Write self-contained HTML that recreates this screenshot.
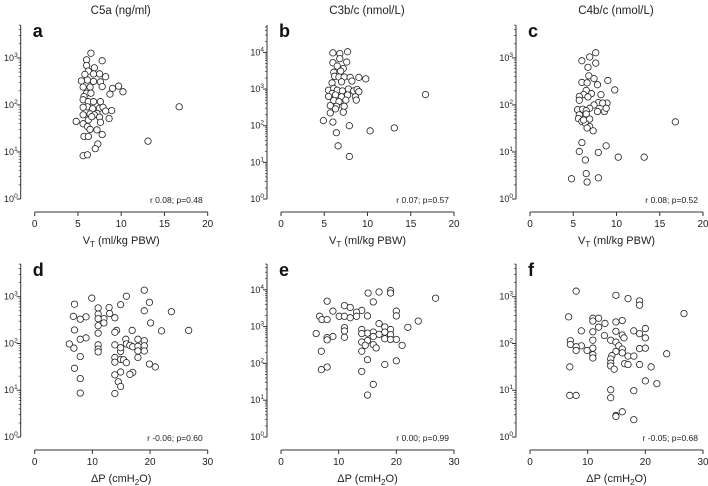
<!DOCTYPE html>
<html><head><meta charset="utf-8"><style>
body{margin:0;background:#fff}
svg{display:block;font-family:"Liberation Sans",Arial,sans-serif}
</style></head><body>
<svg id="chart" width="708" height="486" viewBox="0 0 708 486" xmlns="http://www.w3.org/2000/svg"></svg>
<script>
// Panel a: C5a vs VT (x, log10 y)
const aX=[6.5,6.0,7.8,6.0,6.9,6.2,5.8,6.8,7.5,8.2,7.6,6.8,6.1,5.4,6.4,5.6,6.0,6.5,5.7,9.7,9.0,10.2,8.7,5.6,6.2,6.8,7.6,6.1,5.6,6.7,7.5,7.9,8.9,7.2,5.6,6.4,6.9,8.2,6.2,7.5,8.6,4.8,5.6,6.1,7.6,6.4,7.2,5.7,6.2,7.8,7.3,7.0,13.1,16.7,5.6,6.1,7.8,6.6];
const aLogY=[3.10,2.96,2.94,2.84,2.79,2.72,2.65,2.66,2.66,2.60,2.49,2.50,2.53,2.51,2.38,2.38,2.25,2.25,2.18,2.40,2.35,2.28,2.23,2.11,2.07,2.07,2.07,1.96,1.95,1.92,1.93,1.95,1.88,1.82,1.79,1.81,1.79,1.87,1.68,1.74,1.71,1.65,1.60,1.54,1.63,1.48,1.47,1.33,1.33,1.37,1.17,1.07,1.23,1.96,0.92,0.94,2.39,1.75];
// Panel b: C3b/c vs VT
const bX=[6.0,6.8,7.7,6.8,6.0,7.6,6.5,7.2,6.1,6.9,6.2,6.7,7.3,8.0,9.0,9.8,8.2,5.9,7.0,5.5,6.1,6.5,7.1,7.8,8.4,8.8,9.0,5.9,6.3,7.0,7.7,8.6,8.7,6.1,6.7,7.5,5.7,6.4,7.3,5.7,6.3,7.2,16.7,4.9,6.0,7.9,10.3,13.1,6.4,6.6,7.9,5.5];
const bLogY=[3.99,3.97,4.02,3.83,3.72,3.74,3.63,3.56,3.46,3.49,3.35,3.33,3.33,3.32,3.32,3.28,3.22,3.17,3.20,2.97,3.02,2.97,2.95,3.00,2.95,2.99,2.93,2.88,2.84,2.79,2.84,2.79,2.70,2.69,2.66,2.70,2.55,2.53,2.53,2.35,2.46,2.37,2.85,2.14,2.10,2.00,1.86,1.94,1.81,1.45,1.16,2.80];
// Panel c: C4b/c vs VT
const cX=[7.6,6.9,6.0,7.6,6.7,6.8,7.4,9.0,6.0,6.6,7.8,9.8,6.5,7.1,8.2,6.2,5.7,6.7,5.7,7.9,8.9,8.4,7.4,6.9,5.5,6.1,6.5,7.8,8.6,8.8,5.7,6.5,5.6,6.0,6.9,6.4,6.9,7.3,6.6,6.2,16.8,6.0,8.8,5.7,7.9,10.2,13.2,6.4,4.8,6.5,6.6,7.9];
const cLogY=[3.11,3.02,2.94,2.89,2.80,2.62,2.56,2.52,2.48,2.47,2.43,2.32,2.31,2.24,2.22,2.22,2.18,2.17,2.10,2.05,2.04,2.04,2.00,1.93,1.90,1.91,1.88,1.86,1.86,1.93,1.79,1.81,1.71,1.65,1.70,1.61,1.54,1.45,1.51,1.68,1.64,1.20,1.13,1.01,0.99,0.89,0.89,0.83,0.43,0.54,0.36,0.45];
// Panel d: C5a vs dP
const dX=[19.0,15.9,9.9,19.9,6.9,14.9,11.0,12.9,19.0,23.7,6.7,8.9,7.9,11.0,12.0,11.0,13.9,13.0,20.1,11.0,12.0,6.9,14.2,16.9,22.0,26.7,11.0,13.9,8.9,7.9,15.8,17.9,19.0,6.0,11.0,13.9,15.9,16.5,17.0,17.9,19.0,6.8,11.0,14.9,17.9,19.0,11.0,14.9,7.9,13.9,14.9,15.4,15.9,17.9,13.9,19.9,20.9,6.9,14.9,13.9,17.0,16.5,7.9,14.5,14.9,7.9,13.9];
const dLogY=[3.14,3.01,2.97,2.88,2.84,2.83,2.76,2.77,2.70,2.68,2.58,2.57,2.52,2.63,2.53,2.53,2.55,2.64,2.44,2.38,2.44,2.29,2.28,2.28,2.27,2.28,2.22,2.24,2.12,2.09,2.09,2.09,2.06,1.99,1.97,1.97,1.99,1.96,1.93,1.94,1.95,1.90,1.88,1.83,1.84,1.84,1.82,1.91,1.72,1.70,1.66,1.65,1.59,1.70,1.60,1.56,1.50,1.47,1.39,1.33,1.38,1.34,1.25,1.18,1.08,0.94,0.93];
// Panel e: C3b/c vs dP
const eX=[19.0,15.1,17.0,19.0,26.8,16.0,8.0,11.0,12.0,9.0,14.0,13.1,20.0,6.7,10.1,11.0,12.0,13.1,15.0,20.0,7.1,8.0,23.8,17.0,22.0,11.0,14.0,18.0,19.0,11.0,18.0,15.0,16.0,14.0,6.1,17.0,19.0,16.0,9.0,11.0,8.0,8.0,18.0,19.0,20.0,15.0,14.0,16.0,21.0,14.6,16.5,7.0,14.0,15.0,20.0,18.0,8.0,7.0,14.0,16.0,15.0];
const eLogY=[3.98,3.91,3.94,3.91,3.77,3.67,3.69,3.57,3.52,3.42,3.44,3.39,3.42,3.28,3.28,3.28,3.24,3.28,3.29,3.29,3.19,3.19,3.15,3.08,2.98,2.97,2.92,2.99,2.92,2.88,2.85,2.82,2.85,2.81,2.81,2.79,2.78,2.73,2.73,2.71,2.70,2.64,2.67,2.65,2.65,2.62,2.58,2.51,2.49,2.49,2.42,2.33,2.33,2.10,2.07,1.97,1.90,1.83,1.78,1.43,1.14];
// Panel f: C4b/c vs dP
const fX=[8.0,14.9,17.0,19.0,19.0,26.7,6.7,10.9,11.9,10.9,16.0,14.9,13.0,11.9,8.9,14.9,18.0,20.0,10.9,19.0,16.0,12.9,16.3,20.0,10.9,14.0,7.0,14.9,7.0,15.4,8.9,8.0,9.9,10.9,16.0,19.0,20.0,8.0,14.9,16.0,10.9,14.2,17.0,18.0,23.7,10.9,14.0,14.0,16.4,17.0,19.0,14.0,6.9,21.0,14.6,20.0,22.0,14.0,18.0,6.9,8.0,14.0,16.0,14.9,14.9,18.0];
const fLogY=[3.12,3.03,2.96,2.91,2.82,2.64,2.57,2.54,2.54,2.48,2.49,2.46,2.43,2.35,2.27,2.26,2.27,2.32,2.25,2.21,2.18,2.17,2.12,2.12,2.07,2.07,2.06,2.03,1.98,1.95,1.95,1.93,1.85,1.90,1.88,1.89,1.90,1.85,1.83,1.80,1.76,1.74,1.73,1.73,1.78,1.69,1.67,1.58,1.57,1.55,1.55,1.52,1.50,1.50,1.45,1.20,1.14,1.01,0.99,0.89,0.89,0.84,0.54,0.46,0.44,0.37];
const stats=["r 0.08; p=0.48","r 0.07; p=0.57","r 0.08; p=0.52","r -0.06; p=0.60","r 0.00; p=0.99","r -0.05; p=0.68"];
const titles=["C5a (ng/ml)","C3b/c (nmol/L)","C4b/c (nmol/L)"];
const letters=["a","b","c","d","e","f"];
const xTicksVT=[0,5,10,15,20];
const xTicksDP=[0,10,20,30];

const NS="http://www.w3.org/2000/svg";
const svg=document.getElementById('chart');
function mk(tag,attrs,parent){const e=document.createElementNS(NS,tag);for(const k in attrs)e.setAttribute(k,attrs[k]);(parent||svg).appendChild(e);return e;}

const panels=[
 {id:'a',xs:aX,ys:aLogY,yax:20.7,top:25,bot:199,lmax:3.7,xmax:20,ticks:xTicksVT,row:0},
 {id:'b',xs:bX,ys:bLogY,yax:267,top:25,bot:199,lmax:4.75,xmax:20,ticks:xTicksVT,row:0},
 {id:'c',xs:cX,ys:cLogY,yax:516,top:25,bot:199,lmax:3.7,xmax:20,ticks:xTicksVT,row:0},
 {id:'d',xs:dX,ys:dLogY,yax:20.7,top:264,bot:437,lmax:3.7,xmax:30,ticks:xTicksDP,row:1},
 {id:'e',xs:eX,ys:eLogY,yax:267,top:264,bot:437,lmax:4.7,xmax:30,ticks:xTicksDP,row:1},
 {id:'f',xs:fX,ys:fLogY,yax:516,top:264,bot:437,lmax:3.7,xmax:30,ticks:xTicksDP,row:1}
];
const col='#333';
panels.forEach((p,i)=>{
  const g=mk('g',{});
  
  
  const x0=p.yax+14, x1=p.yax+187;
  const xAxisY=p.bot+13;
  const sx=v=>x0+(x1-x0)*v/p.xmax;
  const sy=l=>p.bot-(p.bot-p.top)*l/p.lmax;
  // y axis
  const ya=mk('g',{},g);
  
  
  mk('line',{x1:p.yax,y1:p.top,x2:p.yax,y2:p.bot,stroke:col,'stroke-width':1},ya);
  for(let d=0;d<=Math.floor(p.lmax);d++){
    mk('line',{x1:p.yax-4,y1:sy(d),x2:p.yax,y2:sy(d),stroke:col,'stroke-width':1},ya);
    const t=mk('text',{x:p.yax-3,y:sy(d)+3,'font-size':9,'text-anchor':'end',fill:'#222'},ya);
    t.textContent='10';
    const s=mk('tspan',{dy:-4,'font-size':6.5},t);s.textContent=String(d);
    for(let m=2;m<10;m++){const l=d+Math.log10(m);if(l>p.lmax)break;
      mk('line',{x1:p.yax-2,y1:sy(l),x2:p.yax,y2:sy(l),stroke:col,'stroke-width':0.7},ya);}
  }
  // x axis
  const xa=mk('g',{},g);
  
  
  mk('line',{x1:x0,y1:xAxisY,x2:x1,y2:xAxisY,stroke:col,'stroke-width':1},xa);
  p.ticks.forEach(v=>{
    mk('line',{x1:sx(v),y1:xAxisY,x2:sx(v),y2:xAxisY+4,stroke:col,'stroke-width':1},xa);
    const t=mk('text',{x:sx(v),y:xAxisY+15,'font-size':10,'text-anchor':'middle',fill:'#222'},xa);
    t.textContent=String(v);
  });
  const xt=mk('text',{x:(x0+x1)/2,y:xAxisY+32,'font-size':11,'text-anchor':'middle',fill:'#222'},g);
  
  
  if(p.row===0){xt.textContent='V';const s=mk('tspan',{dy:3,'font-size':8},xt);s.textContent='T';const s2=mk('tspan',{dy:-3},xt);s2.textContent=' (ml/kg PBW)';}
  else{xt.textContent='ΔP (cmH';const s=mk('tspan',{dy:3,'font-size':8},xt);s.textContent='2';const s2=mk('tspan',{dy:-3},xt);s2.textContent='O)';}
  // letter
  const lt=mk('text',{x:p.yax+12,y:p.top+12,'font-size':18,'font-weight':'bold',fill:'#111'},g);
  
  
  lt.textContent=letters[i];
  // stats
  const st=mk('text',{x:x1-5,y:p.bot+4,'font-size':8.5,'text-anchor':'end',fill:'#222'},g);
  
  
  st.textContent=stats[i];
  // title
  if(p.row===0){
    const tt=mk('text',{x:p.yax+100,y:14,'font-size':11.5,'text-anchor':'middle',fill:'#222'},g);
    
    
    tt.textContent=titles[i];
  }
  // points
  const pg=mk('g',{},g);
  
  
  p.xs.forEach((v,k)=>{
    const c=mk('circle',{cx:sx(v),cy:sy(p.ys[k]),r:3.2,fill:'#fff',stroke:'#222','stroke-width':0.8},pg);
    
    
  });
});
</script>
</body></html>
